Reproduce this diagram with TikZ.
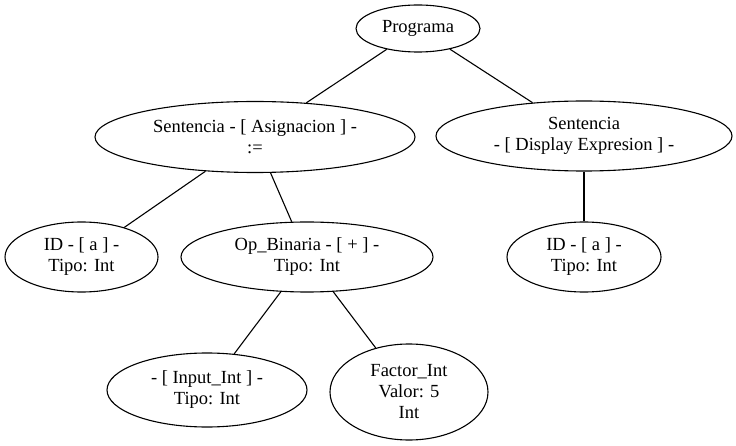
\documentclass[tikz,border=0pt]{standalone}
\usepackage{fontspec}
\setmainfont{Liberation Serif}
\usetikzlibrary{shapes.geometric}
\tikzset{
  tnode/.style={draw, ellipse, line width=1.1pt, inner sep=0pt, align=center,
    font=\fontsize{18.5}{21}\selectfont},
  tedge/.style={line width=1.1pt}
}
\begin{document}
\begin{tikzpicture}[x=1pt,y=-1pt]
\useasboundingbox (0,0) rectangle (736,446);
\node[tnode, minimum width=124pt, minimum height=47pt] (prog) at (418,28.5) {Programa};
\node[tnode, minimum width=320pt, minimum height=71pt] (s1) at (255,137) {Sentencia - [ Asignacion ] -\\:=};
\node[tnode, minimum width=296pt, minimum height=70pt] (s2) at (584,136) {Sentencia\\- [ Display Expresion ] -};
\node[tnode, minimum width=153pt, minimum height=70pt] (id1) at (81.5,257) {ID - [ a ] -\\Tipo: Int};
\node[tnode, minimum width=252pt, minimum height=70pt] (op) at (307,257) {Op\_Binaria - [ + ] -\\Tipo: Int};
\node[tnode, minimum width=154pt, minimum height=70pt] (id2) at (584,257) {ID - [ a ] -\\Tipo: Int};
\node[tnode, minimum width=200pt, minimum height=74pt] (inp) at (207,390) {- [ Input\_Int ] -\\Tipo: Int};
\node[tnode, minimum width=158pt, minimum height=96pt] (fac) at (409,392) {Factor\_Int\\Valor: 5\\Int};
\draw[tedge] (prog) -- (s1);
\draw[tedge] (prog) -- (s2);
\draw[tedge] (s1) -- (id1);
\draw[tedge] (s1) -- (op);
\draw[tedge] (s2) -- (id2);
\draw[tedge] (op) -- (inp);
\draw[tedge] (op) -- (fac);
\end{tikzpicture}
\end{document}
